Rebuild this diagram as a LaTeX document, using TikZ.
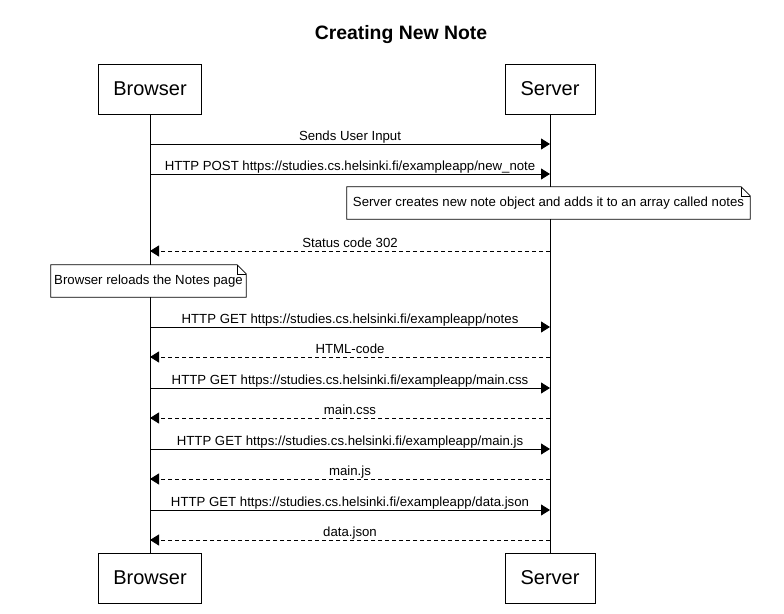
\documentclass[tikz,border=0pt]{standalone}
\usepackage{fontspec}
\setmainfont{Liberation Sans}
\usetikzlibrary{arrows.meta}
\begin{document}
\begin{tikzpicture}[x=1pt,y=-1pt,
  actor/.style={draw,line width=0.8pt,minimum height=50pt,inner sep=0pt,font=\fontsize{20}{22}\selectfont},
  lifeline/.style={line width=0.8pt},
  msg/.style={line width=0.8pt,-{Triangle[length=9pt,width=11pt]}},
  reply/.style={msg,dash pattern=on 4pt off 3pt},
  lbl/.style={font=\fontsize{13.2}{14}\selectfont,inner sep=0pt,midway,anchor=base,yshift=3.5pt},
  notebox/.style={inner sep=0pt,font=\fontsize{13.2}{14}\selectfont}
]
\useasboundingbox (0,0) rectangle (784,613);
\node[font=\bfseries\fontsize{19.4}{21}\selectfont] (title) at (401,35) {Creating New Note};
\node[actor,minimum width=103pt] (bt) at (150,89) {Browser};
\node[actor,minimum width=90pt] (st) at (550,89) {Server};
\node[actor,minimum width=103pt] (bb) at (150,578) {Browser};
\node[actor,minimum width=90pt] (sb) at (550,578) {Server};
\draw[lifeline] (bt.south) -- (bb.north);
\draw[lifeline] (st.south) -- (sb.north);
% message coordinates
\foreach \n/\y in {1/144,2/174,4/251,6/327,7/357,8/388,9/418,10/449,11/479,12/510,13/540}{
  \coordinate (b\n) at (150,\y);
  \coordinate (s\n) at (550,\y);
}
\draw[msg] (b1) -- (s1) node[lbl] (l1) {Sends User Input};
\draw[msg] (b2) -- (s2) node[lbl] (l2) {HTTP POST https://studies.cs.helsinki.fi/exampleapp/new\_note};
% server note
\node[notebox,minimum width=403pt,minimum height=32pt] (n1) at (548.5,203) {};
\fill[white] (n1.north west) rectangle (n1.south east);
\node[notebox] at (n1.center) {Server creates new note object and adds it to an array called notes};
\draw[line width=0.8pt] (n1.north west) -- ([xshift=-9pt]n1.north east) -- ([yshift=-9pt]n1.north east) -- (n1.south east) -- (n1.south west) -- cycle;
\draw[line width=0.6pt] ([xshift=-9pt]n1.north east) -- ([xshift=-9pt,yshift=-9pt]n1.north east) -- ([yshift=-9pt]n1.north east);
\draw[reply] (s4) -- (b4) node[lbl] (l4) {Status code 302};
% browser note
\node[notebox,minimum width=195pt,minimum height=32pt] (n2) at (148.5,281) {};
\fill[white] (n2.north west) rectangle (n2.south east);
\node[notebox] at (n2.center) {Browser reloads the Notes page};
\draw[line width=0.8pt] (n2.north west) -- ([xshift=-9pt]n2.north east) -- ([yshift=-9pt]n2.north east) -- (n2.south east) -- (n2.south west) -- cycle;
\draw[line width=0.6pt] ([xshift=-9pt]n2.north east) -- ([xshift=-9pt,yshift=-9pt]n2.north east) -- ([yshift=-9pt]n2.north east);
\draw[msg] (b6) -- (s6) node[lbl] (l6) {HTTP GET https://studies.cs.helsinki.fi/exampleapp/notes};
\draw[reply] (s7) -- (b7) node[lbl] (l7) {HTML-code};
\draw[msg] (b8) -- (s8) node[lbl] (l8) {HTTP GET https://studies.cs.helsinki.fi/exampleapp/main.css};
\draw[reply] (s9) -- (b9) node[lbl] (l9) {main.css};
\draw[msg] (b10) -- (s10) node[lbl] (l10) {HTTP GET https://studies.cs.helsinki.fi/exampleapp/main.js};
\draw[reply] (s11) -- (b11) node[lbl] (l11) {main.js};
\draw[msg] (b12) -- (s12) node[lbl] (l12) {HTTP GET https://studies.cs.helsinki.fi/exampleapp/data.json};
\draw[reply] (s13) -- (b13) node[lbl] (l13) {data.json};
\end{tikzpicture}
\end{document}
